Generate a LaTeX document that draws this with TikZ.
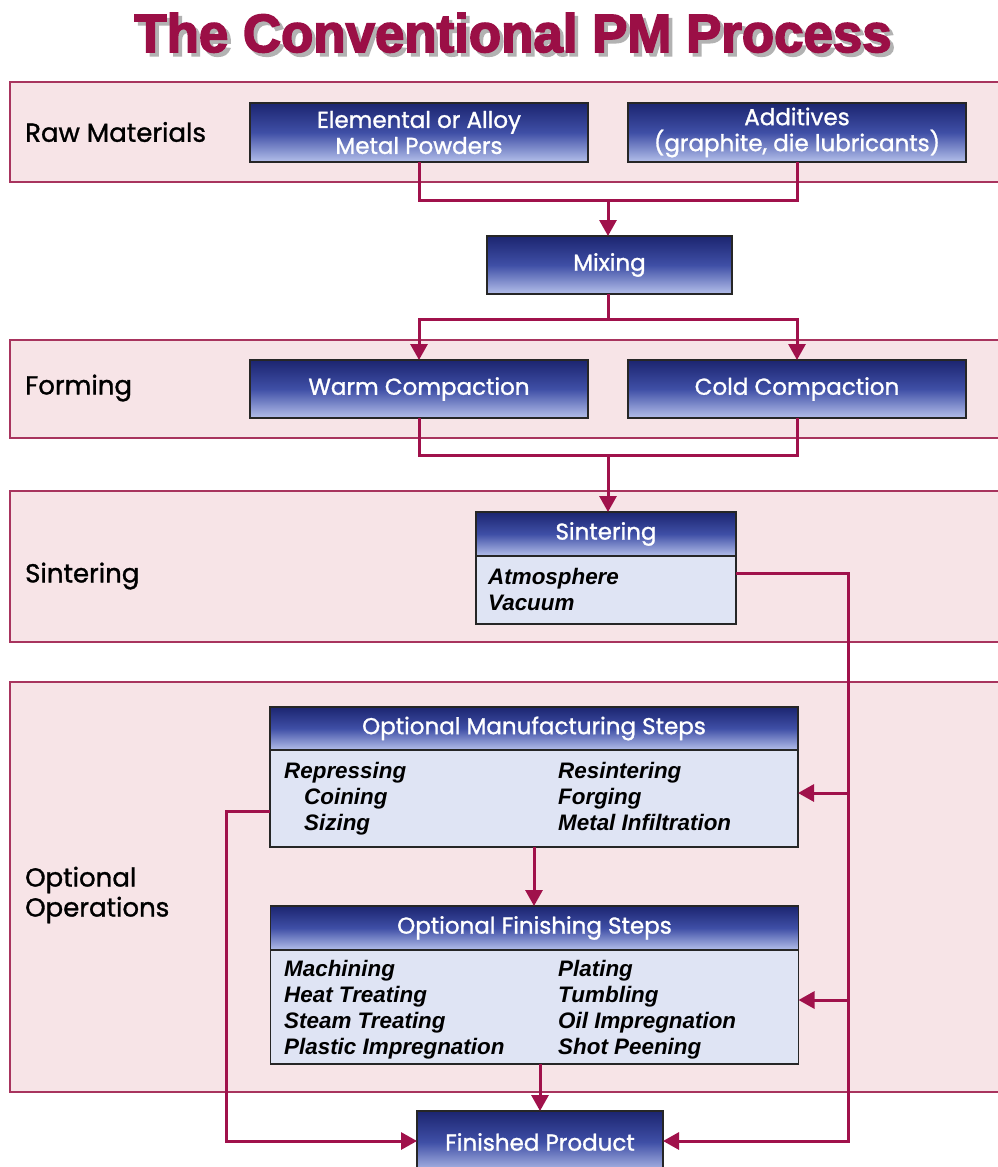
\documentclass[tikz,border=0pt]{standalone}
\usepackage{fontspec}
\setmainfont{Liberation Sans}
\newfontfamily\agfont[FakeBold=1.2]{Poppins}
\newfontfamily\titlefont[FakeBold=3]{Liberation Sans}
\usetikzlibrary{arrows.meta,calc}
\definecolor{crim}{HTML}{A0114B}
\definecolor{panelfill}{HTML}{F7E4E7}
\definecolor{panelline}{HTML}{A8345E}
\definecolor{navy}{HTML}{1C2570}
\definecolor{navymid}{HTML}{3F4FA6}
\definecolor{peri}{HTML}{B4BFEA}
\definecolor{bodyfill}{HTML}{DFE4F4}
\definecolor{titlecol}{HTML}{9B0F46}
\newcommand\lstrows[1]{\begin{tabular}[t]{@{}l@{}}#1\end{tabular}}
\newcommand\titletext{The Conventional PM Process}
\tikzset{
  panel/.style={fill=panelfill, draw=panelline, line width=1.8pt},
  lab/.style={anchor=west, inner sep=0pt, align=left, font=\agfont\fontsize{26}{30}\selectfont},
  gbox/.style={draw=black!85, line width=1.5pt, top color=navy, bottom color=peri, middle color=navymid,
    text=white, font=\agfont\fontsize{23}{26}\selectfont, align=center, inner sep=0pt, outer sep=0pt},
  bodybox/.style={draw=black!85, line width=1.5pt, fill=bodyfill, inner sep=0pt, outer sep=0pt},
  lst/.style={anchor=base west, inner sep=0pt, font=\fontsize{22.4}{26}\selectfont\bfseries\itshape},
  conn/.style={draw=crim, line width=3pt},
  arr/.style={conn, -{Triangle[length=16pt,width=17pt]}},
}
\begin{document}
\begin{tikzpicture}[x=1pt,y=-1pt]
\useasboundingbox[fill=white] (0,0) rectangle (997,1167);
% title (with its drop shadow)
\node[anchor=base, inner sep=0pt] (title) at (513,52)
  {\resizebox{757pt}{39pt}{\titlefont\bfseries
    \makebox[0pt][l]{\hspace{0.7pt}\raisebox{-0.7pt}{\textcolor{black!30}{\titletext}}}%
    \textcolor{titlecol}{\titletext}}};
% panels
\draw[panel] (10,82) rectangle (1010,182);
\draw[panel] (10,340) rectangle (1010,438);
\draw[panel] (10,491) rectangle (1010,642);
\draw[panel] (10,682) rectangle (1010,1092);
% labels
\node[lab] (l1) at (25,132) {Raw Materials};
\node[lab] (l2) at (25,388) {Forming};
\node[lab] (l3) at (25,576) {Sintering};
\node[lab] (l4) at (25,895) {Optional\\Operations};
% boxes
\node[gbox, minimum width=338pt, minimum height=59pt] (elem) at (419,132.5) {Elemental or Alloy\\Metal Powders};
\node[gbox, minimum width=338pt, minimum height=59pt] (add) at (797,132.5) {Additives\\(graphite, die lubricants)};
\node[gbox, minimum width=245pt, minimum height=58pt] (mix) at (609.5,265) {Mixing};
\node[gbox, minimum width=338pt, minimum height=58pt] (warm) at (419,389) {Warm Compaction};
\node[gbox, minimum width=338pt, minimum height=58pt] (cold) at (797,389) {Cold Compaction};
% sintering
\node[bodybox, minimum width=260pt, minimum height=68pt] (sintb) at (606,590) {};
\node[gbox, minimum width=260pt, minimum height=44pt] (sinth) at (606,534) {Sintering};
\node[lst] (sintl) at (488,584) {\lstrows{Atmosphere\\Vacuum}};
% optional manufacturing
\node[bodybox, minimum width=528pt, minimum height=97pt] (omsb) at (534,798.5) {};
\node[gbox, minimum width=528pt, minimum height=43pt] (omsh) at (534,728.5) {Optional Manufacturing Steps};
\node[lst] (omsl) at (284,778) {\lstrows{Repressing\\\hspace{20pt}Coining\\\hspace{20pt}Sizing}};
\node[lst] (omsr) at (558,778) {\lstrows{Resintering\\Forging\\Metal Infiltration}};
% optional finishing
\node[bodybox, minimum width=528pt, minimum height=114pt] (ofsb) at (534.5,1007) {};
\node[gbox, minimum width=528pt, minimum height=44pt] (ofsh) at (534.5,928) {Optional Finishing Steps};
\node[lst] (ofsl) at (284,976) {\lstrows{Machining\\Heat Treating\\Steam Treating\\Plastic Impregnation}};
\node[lst] (ofsr) at (558,976) {\lstrows{Plating\\Tumbling\\Oil Impregnation\\Shot Peening}};
% finished
\node[gbox, minimum width=246pt, minimum height=62pt] (fin) at (540,1142) {Finished Product};
% connectors
\coordinate (j1) at (608,200);
\draw[conn] (elem.south) |- (j1) -| (add.south);
\draw[arr] (j1) -- (mix.north -| j1);
\coordinate (j2) at (608,319);
\draw[conn] (mix.south -| j2) -- (j2);
\draw[arr] (j2) -| (warm.north);
\draw[arr] (j2) -| (cold.north);
\coordinate (j3) at (608,455);
\draw[conn] (warm.south) |- (j3) -| (cold.south);
\draw[arr] (j3) -- (sinth.north -| j3);
\coordinate (r1) at (848,573);
\coordinate (r2) at (848,793);
\coordinate (r3) at (848,1000);
\coordinate (r4) at (848,1141);
\draw[arr] (sintb.east |- r1) -- (r1) -- (r4) -- (fin.east |- r4);
\draw[arr] (r2) -- (omsb.east |- r2);
\draw[arr] (r3) -- (ofsb.east |- r3);
\coordinate (lft) at (226,811);
\coordinate (lfb) at (226,1141);
\draw[arr] (omsb.west |- lft) -- (lft) -- (lfb) -- (fin.west |- lfb);
\draw[arr] (omsb.south) -- (ofsh.north -| omsb.south);
\draw[arr] (ofsb.south -| fin.north) -- (fin.north);
\end{tikzpicture}
\end{document}
